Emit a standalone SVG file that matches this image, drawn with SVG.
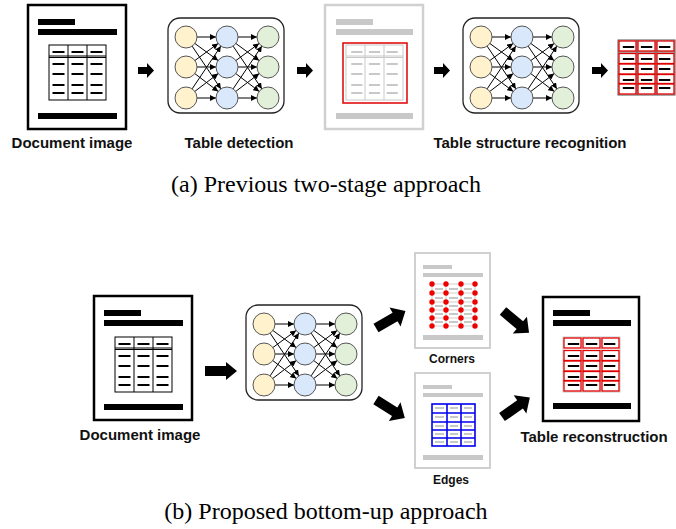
<svg xmlns="http://www.w3.org/2000/svg" xmlns:xlink="http://www.w3.org/1999/xlink" width="676" height="529" viewBox="0 0 676 529">
<style>
.lbl{font-family:"Liberation Sans",Arial,sans-serif;font-weight:bold;font-size:15px;text-anchor:middle;fill:#111}
.sm{font-size:12px}
.cap{font-family:"Liberation Serif","Times New Roman",serif;font-size:24px;text-anchor:middle;fill:#000}
.docb{fill:#fff;stroke:#000;stroke-width:2.5}
.docg{fill:#fff;stroke:#d0d0d0;stroke-width:2.5}
.barb{fill:#000}
.barg{fill:#c8c8c8}
.tb{fill:none;stroke:#000;stroke-width:1}
.tg{fill:none;stroke:#c8c8c8;stroke-width:1}
.red{fill:none;stroke:#e00000;stroke-width:1.3}
.blue{fill:none;stroke:#0000ee;stroke-width:1.6}
.ar{fill:#000}
.box{fill:#fff;stroke:#222;stroke-width:1.3}
.ny{fill:#fff2cc;stroke:#555;stroke-width:1}
.nb{fill:#dae8fc;stroke:#555;stroke-width:1}
.ng{fill:#e2f0d9;stroke:#555;stroke-width:1}
.e{stroke:#000;stroke-width:1;marker-end:url(#ah)}
</style>
<defs>
<marker id="ah" markerUnits="userSpaceOnUse" markerWidth="6" markerHeight="6" refX="6" refY="3" orient="auto"><path d="M0,0 L6,3 L0,6 z" fill="#000"/></marker>
<path id="arS" d="M0,-3.5 L9,-3.5 L9,-7.5 L16,0 L9,7.5 L9,3.5 L0,3.5 z"/>
<path id="arL" d="M0,-5 L21,-5 L21,-9 L32,0 L21,9 L21,5 L0,5 z"/>
<path id="arD" d="M0,-5 L22,-5 L22,-11 L34,0 L22,11 L22,5 L0,5 z"/>
<g id="edges1">
<line class="e" x1="29" y1="19" x2="48" y2="19"/>
<line class="e" x1="26.9" y1="25.5" x2="50.1" y2="42.5"/>
<line class="e" x1="24.1" y1="28.1" x2="52.9" y2="70.9"/>
<line class="e" x1="26.9" y1="42.5" x2="50.1" y2="25.5"/>
<line class="e" x1="29" y1="49" x2="48" y2="49"/>
<line class="e" x1="26.8" y1="55.6" x2="50.2" y2="73.4"/>
<line class="e" x1="24.1" y1="70.9" x2="52.9" y2="28.1"/>
<line class="e" x1="26.8" y1="73.4" x2="50.2" y2="55.6"/>
<line class="e" x1="29" y1="80" x2="48" y2="80"/>
</g>
<g id="nn">
<rect class="box" x="0" y="0" width="116" height="95" rx="12"/>
<use xlink:href="#edges1"/>
<use xlink:href="#edges1" x="41"/>
<circle class="ny" cx="18" cy="19" r="11"/><circle class="ny" cx="18" cy="49" r="11"/><circle class="ny" cx="18" cy="80" r="11"/>
<circle class="nb" cx="59" cy="19" r="11"/><circle class="nb" cx="59" cy="49" r="11"/><circle class="nb" cx="59" cy="80" r="11"/>
<circle class="ng" cx="100" cy="19" r="11"/><circle class="ng" cx="100" cy="49" r="11"/><circle class="ng" cx="100" cy="80" r="11"/>
</g>
<g id="dashes">
<rect x="3.5" y="6" width="12" height="2"/><rect x="22.5" y="6" width="12" height="2"/><rect x="41.5" y="6" width="12" height="2"/>
<rect x="3.5" y="18" width="12" height="2"/><rect x="22.5" y="18" width="12" height="2"/><rect x="41.5" y="18" width="12" height="2"/>
<rect x="3.5" y="28" width="12" height="2"/><rect x="22.5" y="28" width="12" height="2"/><rect x="41.5" y="28" width="12" height="2"/>
<rect x="3.5" y="39" width="12" height="2"/><rect x="22.5" y="39" width="12" height="2"/><rect x="41.5" y="39" width="12" height="2"/>
<rect x="3.5" y="47" width="12" height="2"/><rect x="22.5" y="47" width="12" height="2"/><rect x="41.5" y="47" width="12" height="2"/>
</g>
<g id="grid">
<rect x="0" y="0" width="57" height="55"/>
<line x1="19" y1="0" x2="19" y2="55"/><line x1="38" y1="0" x2="38" y2="55"/>
<line x1="0" y1="11" x2="57" y2="11"/><line x1="0" y1="12.5" x2="57" y2="12.5"/>
</g>
<g id="redcells" class="red">
<rect x="1" y="1" width="17" height="10"/><rect x="20" y="1" width="17" height="10"/><rect x="39" y="1" width="17" height="10"/>
<rect x="1" y="13.5" width="17" height="10"/><rect x="20" y="13.5" width="17" height="10"/><rect x="39" y="13.5" width="17" height="10"/>
<rect x="1" y="24" width="17" height="10"/><rect x="20" y="24" width="17" height="10"/><rect x="39" y="24" width="17" height="10"/>
<rect x="1" y="34.5" width="17" height="9"/><rect x="20" y="34.5" width="17" height="9"/><rect x="39" y="34.5" width="17" height="9"/>
<rect x="1" y="44" width="17" height="10"/><rect x="20" y="44" width="17" height="10"/><rect x="39" y="44" width="17" height="10"/>
</g>
<g id="docblack">
<rect class="docb" x="0" y="0" width="98" height="124"/>
<rect class="barb" x="10" y="14" width="37" height="6"/>
<rect class="barb" x="10" y="24" width="79" height="6"/>
<rect class="barb" x="10" y="108" width="79" height="6"/>
</g>
<g id="smalldoc">
<rect x="0" y="0" width="75" height="95" fill="#fff" stroke="#d0d0d0" stroke-width="2"/>
<rect class="barg" x="8" y="12" width="29" height="4"/>
<rect class="barg" x="8" y="20" width="60" height="4"/>
<rect class="barg" x="8" y="82" width="60" height="5"/>
</g>
</defs>

<!-- (a) top row -->
<g id="doc-a">
<use xlink:href="#docblack" x="28" y="5"/>
<g transform="translate(49,45)"><use xlink:href="#grid" class="tb"/><use xlink:href="#dashes" fill="#000"/></g>
<text class="lbl" x="72" y="148">Document image</text>
</g>
<g id="nn-detect">
<use xlink:href="#nn" x="168" y="18"/>
<text class="lbl" x="239" y="148">Table detection</text>
</g>
<g id="doc-detected">
<rect class="docg" x="325" y="5" width="98" height="124"/>
<rect class="barg" x="336" y="19" width="37" height="6"/>
<rect class="barg" x="336" y="29" width="77" height="6"/>
<rect class="barg" x="336" y="113" width="77" height="6"/>
<g transform="translate(346,45)"><use xlink:href="#grid" class="tg"/><use xlink:href="#dashes" fill="#c8c8c8" transform="translate(2,0) scale(0.93,1)"/></g>
<rect x="343" y="43" width="64" height="60" fill="none" stroke="#e00000" stroke-width="1.5"/>
</g>
<g id="nn-structure">
<use xlink:href="#nn" x="463" y="18"/>
<text class="lbl" x="530" y="148">Table structure recognition</text>
</g>
<g id="table-out">
<g transform="translate(618,40)">
<rect x="0" y="0" width="57" height="55" fill="#fff" stroke="#555" stroke-width="1"/>
<g stroke="#555" stroke-width="1"><line x1="19" y1="0" x2="19" y2="55"/><line x1="38" y1="0" x2="38" y2="55"/><line x1="0" y1="12" x2="57" y2="12"/></g>
<use xlink:href="#redcells"/>
<use xlink:href="#dashes" fill="#000" transform="translate(1.5,0) scale(0.95,1)"/>
</g>
</g>
<g id="connectors-a">
<use xlink:href="#arS" class="ar" x="138" y="70.5"/>
<use xlink:href="#arS" class="ar" x="297" y="70.5"/>
<use xlink:href="#arS" class="ar" x="434" y="70.5"/>
<use xlink:href="#arS" class="ar" x="592" y="70.5"/>
</g>
<text class="cap" x="326" y="192">(a) Previous two-stage approach</text>

<!-- (b) bottom row -->
<g id="doc-b">
<use xlink:href="#docblack" x="94" y="296"/>
<g transform="translate(115,337)"><use xlink:href="#grid" class="tb"/><use xlink:href="#dashes" fill="#000"/></g>
<text class="lbl" x="140" y="440">Document image</text>
</g>
<g id="nn-b">
<use xlink:href="#nn" x="246" y="305"/>
</g>
<g id="corners">
<use xlink:href="#smalldoc" x="415" y="253"/>
<g transform="translate(415,253)">
<g stroke="#d0d0d0" stroke-width="1.2">
<line x1="17" y1="31" x2="60" y2="31"/><line x1="17" y1="40" x2="60" y2="40"/><line x1="17" y1="49" x2="60" y2="49"/><line x1="17" y1="57" x2="60" y2="57"/><line x1="17" y1="65" x2="60" y2="65"/><line x1="17" y1="73" x2="60" y2="73"/>
<line x1="17" y1="31" x2="17" y2="73"/><line x1="31" y1="31" x2="31" y2="73"/><line x1="46" y1="31" x2="46" y2="73"/><line x1="60" y1="31" x2="60" y2="73"/>
</g>
<g fill="#c8c8c8"><rect x="20" y="35" width="8" height="2"/><rect x="34" y="35" width="9" height="2"/><rect x="49" y="35" width="8" height="2"/><rect x="20" y="44" width="8" height="2"/><rect x="34" y="44" width="9" height="2"/><rect x="49" y="44" width="8" height="2"/><rect x="20" y="52" width="8" height="2"/><rect x="34" y="52" width="9" height="2"/><rect x="49" y="52" width="8" height="2"/><rect x="20" y="60" width="8" height="2"/><rect x="34" y="60" width="9" height="2"/><rect x="49" y="60" width="8" height="2"/><rect x="20" y="68" width="8" height="2"/><rect x="34" y="68" width="9" height="2"/><rect x="49" y="68" width="8" height="2"/></g>
<g fill="#ee0000">
<circle cx="17" cy="31" r="2.7"/><circle cx="31" cy="31" r="2.7"/><circle cx="46" cy="31" r="2.7"/><circle cx="60" cy="31" r="2.7"/>
<circle cx="17" cy="40" r="2.7"/><circle cx="31" cy="40" r="2.7"/><circle cx="46" cy="40" r="2.7"/><circle cx="60" cy="40" r="2.7"/>
<circle cx="17" cy="49" r="2.7"/><circle cx="31" cy="49" r="2.7"/><circle cx="46" cy="49" r="2.7"/><circle cx="60" cy="49" r="2.7"/>
<circle cx="17" cy="57" r="2.7"/><circle cx="31" cy="57" r="2.7"/><circle cx="46" cy="57" r="2.7"/><circle cx="60" cy="57" r="2.7"/>
<circle cx="17" cy="65" r="2.7"/><circle cx="31" cy="65" r="2.7"/><circle cx="46" cy="65" r="2.7"/><circle cx="60" cy="65" r="2.7"/>
<circle cx="17" cy="73" r="2.7"/><circle cx="31" cy="73" r="2.7"/><circle cx="46" cy="73" r="2.7"/><circle cx="60" cy="73" r="2.7"/>
</g>
</g>
<text class="lbl sm" x="452" y="363">Corners</text>
</g>
<g id="edges">
<use xlink:href="#smalldoc" x="415" y="373"/>
<g transform="translate(415,373)">
<g fill="#c8c8c8"><rect x="20" y="34" width="9" height="2"/><rect x="35" y="34" width="8" height="2"/><rect x="49" y="34" width="8" height="2"/><rect x="20" y="43" width="9" height="2"/><rect x="35" y="43" width="8" height="2"/><rect x="49" y="43" width="8" height="2"/><rect x="20" y="52" width="9" height="2"/><rect x="35" y="52" width="8" height="2"/><rect x="49" y="52" width="8" height="2"/><rect x="20" y="60" width="9" height="2"/><rect x="35" y="60" width="8" height="2"/><rect x="49" y="60" width="8" height="2"/><rect x="20" y="68" width="9" height="2"/><rect x="35" y="68" width="8" height="2"/><rect x="49" y="68" width="8" height="2"/></g>
<g class="blue">
<rect x="17" y="31" width="43" height="42"/>
<line x1="32" y1="31" x2="32" y2="73"/><line x1="46" y1="31" x2="46" y2="73"/>
<line x1="17" y1="40" x2="60" y2="40"/><line x1="17" y1="49" x2="60" y2="49"/><line x1="17" y1="57" x2="60" y2="57"/><line x1="17" y1="65" x2="60" y2="65"/>
</g>
</g>
<text class="lbl sm" x="451" y="484">Edges</text>
</g>
<g id="doc-recon">
<rect class="docb" x="543" y="297" width="96" height="124"/>
<rect class="barb" x="553" y="310" width="37" height="6"/>
<rect class="barb" x="553" y="320" width="78" height="6"/>
<rect class="barb" x="553" y="403" width="78" height="6"/>
<g transform="translate(563,337)">
<g stroke="#c8c8c8" stroke-width="1" fill="none"><rect x="0" y="0" width="57" height="55"/><line x1="19" y1="0" x2="19" y2="55"/><line x1="38" y1="0" x2="38" y2="55"/></g>
<use xlink:href="#redcells"/>
<use xlink:href="#dashes" fill="#000" transform="translate(1.5,0) scale(0.95,1)"/>
</g>
<text class="lbl" x="594" y="442">Table reconstruction</text>
</g>
<g id="connectors-b">
<use xlink:href="#arL" class="ar" x="205" y="371"/>
<use xlink:href="#arD" class="ar" transform="translate(376,328) rotate(-30)"/>
<use xlink:href="#arD" class="ar" transform="translate(376,400) rotate(32)"/>
<use xlink:href="#arD" class="ar" transform="translate(503,311) rotate(40)"/>
<use xlink:href="#arD" class="ar" transform="translate(502,417) rotate(-35)"/>
</g>
<text class="cap" x="326" y="519">(b) Proposed bottom-up approach</text>
</svg>
